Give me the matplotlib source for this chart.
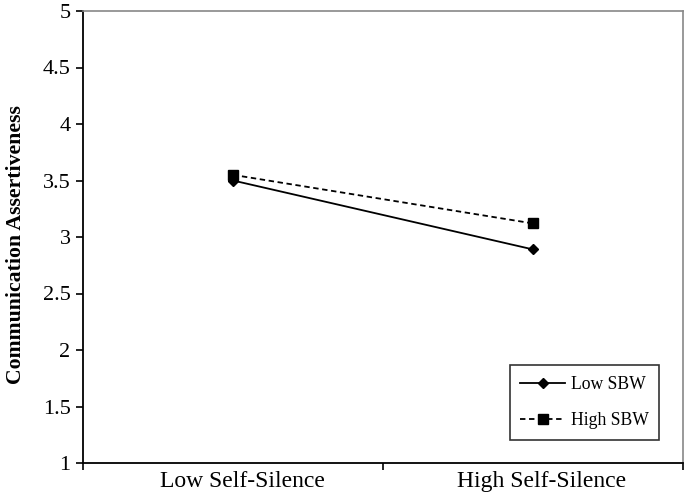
import matplotlib
matplotlib.use("Agg")
import matplotlib.pyplot as plt
import matplotlib.transforms as mtransforms
from matplotlib.ticker import FixedLocator, NullFormatter

# data
categories = ["Low Self-Silence", "High Self-Silence"]
low_sbw = [3.50, 2.89]
high_sbw = [3.55, 3.12]
y_ticks = [1, 1.5, 2, 2.5, 3, 3.5, 4, 4.5, 5]
y_tick_labels = ["1", "1.5", "2", "2.5", "3", "3.5", "4", "4.5", "5"]

plt.rcParams['font.family'] = ['Liberation Serif', 'DejaVu Serif']

fig = plt.figure(figsize=(6.85, 4.99), dpi=100)
ax = fig.add_axes([83 / 685, 1 - 463 / 499, 600 / 685, 452 / 499])

x = list(range(len(categories)))
ax.plot(x, low_sbw, color="black", lw=1.3, marker="D", markersize=5,
        label="Low SBW")
ax.plot(x, high_sbw, color="black", lw=1.3, ls=(0, (3, 2)), marker="s",
        markersize=6.5, label="High SBW")

ax.set_xlim(-0.5, 1.5)
ax.set_ylim(1, 5)
ax.set_yticks(y_ticks)
ax.set_yticklabels(y_tick_labels)
ax.set_xticks(x)
ax.set_xticklabels(categories)
ax.tick_params(axis="x", length=0, labelsize=17, pad=6)
ax.xaxis.set_minor_locator(FixedLocator([-0.5, 0.5, 1.5]))
ax.xaxis.set_minor_formatter(NullFormatter())
ax.tick_params(axis="x", which="minor", length=5, width=1.2, direction="out")
ax.tick_params(axis="y", length=5, width=1.2, direction="out", labelsize=16, pad=4)

# category labels sit a little right of the category centre
shift = mtransforms.ScaledTranslation(9 / 100, 0, fig.dpi_scale_trans)
for lbl in ax.get_xticklabels():
    lbl.set_transform(lbl.get_transform() + shift)

for side in ["left", "bottom"]:
    ax.spines[side].set_linewidth(1.3)
for side in ["top", "right"]:
    ax.spines[side].set_color("#888888")
    ax.spines[side].set_linewidth(1.2)

ax.set_ylabel("Communication Assertiveness", fontsize=15.7, fontweight="bold")
ax.yaxis.set_label_coords((26 - 83) / 600, (463 - 245) / 452)

leg = ax.legend(loc="lower right", bbox_to_anchor=(0.96, 0.051), fontsize=12.7,
                frameon=True, fancybox=False, edgecolor="black",
                handlelength=2.55, labelspacing=1.1, borderpad=0.6,
                handletextpad=0.3, borderaxespad=0)
leg.get_frame().set_linewidth(1.2)

fig.savefig("out.png", dpi=100)
